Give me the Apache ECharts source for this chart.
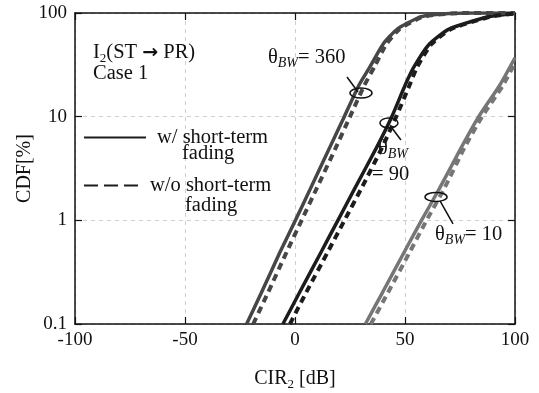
<!DOCTYPE html>
<html>
<head>
<meta charset="utf-8">
<script src="https://cdn.jsdelivr.net/npm/echarts@6/dist/echarts.min.js"></script>
<style>html,body{margin:0;padding:0;background:#fff}#c{width:539px;height:393px}</style>
</head>
<body>
<div id="c"></div>
<script>
// CDF levels [%]
const cdfLevels = [0.1, 0.2, 0.5, 1, 2, 5, 10, 20, 30, 50, 70, 90, 95, 99, 100, 100];
const cir360Solid  = [-22, -15.3, -6.7, 0.2, 6.9, 15.7, 22.4, 29, 34, 40, 46.5, 56, 61, 70, 78, 100];
const cir360Dashed = [-19, -12.3, -3.7, 3, 9.7, 18.5, 25, 31.5, 36, 41.5, 47.5, 57, 62, 71, 79, 100];
const cir90Solid   = [-5.5, 2, 12, 19.5, 27, 37, 44, 50, 54, 61, 70, 86, 92, 99, 100, 100];
const cir90Dashed  = [-2.3, 5, 15, 22.5, 30, 39.5, 46, 52, 55.5, 62, 71, 87, 93, 100, 100, 100];
const cdfLevels10Solid  = [0.1, 0.2, 0.5, 1, 2, 5, 10, 20, 37];
const cir10Solid        = [32, 39.7, 49.8, 57.5, 65.5, 75.5, 83.5, 93, 100];
const cdfLevels10Dashed = [0.1, 0.2, 0.5, 1, 2, 5, 10, 20, 33];
const cir10Dashed       = [34.5, 42.2, 52.3, 59.8, 67.7, 77, 85, 94.5, 100];
const xTicks = [-100, -50, 0, 50, 100];
const yTicks = [0.1, 1, 10, 100];

const FONT = 'Liberation Serif';
const pair = (xs, ys) => xs.map((x, i) => [x, ys[i]]);

const C360 = '#464646', C90 = '#1c1c1c', C10 = '#767676';
function mk(name, xs, ys, color, dashed) {
  return {
    name, type: 'line', data: pair(xs, ys), symbol: 'none', smooth: 0.2,
    xAxisIndex: 0, yAxisIndex: 0, silent: true,
    lineStyle: { color, width: dashed ? 4 : 3.5, type: dashed ? [7, 5] : 'solid' },
    z: dashed ? 3 : 2
  };
}

const chart = echarts.init(document.getElementById('c'));
const axisCommon = () => ({
  axisLine: { show: true, onZero: false, lineStyle: { color: '#111', width: 1.5 } },
  axisTick: { show: true, inside: true, length: 7, lineStyle: { color: '#111', width: 1.2 } },
});
const option = {
  animation: false,
  backgroundColor: '#fff',
  grid: { left: 75, right: 24, top: 13, bottom: 69, containLabel: false, outerBoundsMode: 'none' },
  xAxis: [
    Object.assign({
      type: 'value', min: -100, max: 100, interval: 50,
      name: 'CIR{s|2} [dB]', nameLocation: 'middle', nameGap: 42,
      nameTextStyle: { fontFamily: FONT, fontSize: 20, color: '#111',
        rich: { s: { fontFamily: FONT, fontSize: 13, color: '#111', padding: [12, 0, 0, 0] } } },
      axisLabel: { fontFamily: FONT, fontSize: 19, color: '#111', margin: 7,
        formatter: v => xTicks.includes(v) ? String(v) : '' },
      splitLine: { show: true, lineStyle: { color: '#cfcfcf', type: [4, 4], width: 1 } }
    }, axisCommon()),
    Object.assign({
      type: 'value', min: -100, max: 100, interval: 50, position: 'top',
      axisLabel: { show: false }, splitLine: { show: false }
    }, axisCommon())
  ],
  yAxis: [
    Object.assign({
      type: 'log', logBase: 10, min: 0.1, max: 100,
      name: 'CDF[%]', nameLocation: 'middle', nameGap: 40, nameRotate: 90, nameMoveOverlap: false,
      nameTextStyle: { fontFamily: FONT, fontSize: 20, color: '#111' },
      axisLabel: { fontFamily: FONT, fontSize: 19, color: '#111', margin: 8,
        formatter: v => { const m = yTicks.find(t => Math.abs(t - v) < 1e-9); return m !== undefined ? String(m) : ''; } },
      minorTick: { show: false },
      splitLine: { show: true, lineStyle: { color: '#cfcfcf', type: [4, 4], width: 1 } }
    }, axisCommon()),
    Object.assign({
      type: 'log', logBase: 10, min: 0.1, max: 100, position: 'right',
      axisLabel: { show: false }, splitLine: { show: false }
    }, axisCommon())
  ],
  legend: [
    { data: ['w/ short-term'], left: 78, top: 122, itemWidth: 62, itemHeight: 20, orient: 'vertical',
      textStyle: { fontFamily: FONT, fontSize: 20.5, color: '#111', padding: [0, 0, 0, 6] },
      itemStyle: { opacity: 0 }, selectedMode: false },
    { data: ['w/o short-term'], left: 78, top: 170, itemWidth: 59, itemHeight: 20, orient: 'vertical',
      textStyle: { fontFamily: FONT, fontSize: 20.5, color: '#111', padding: [0, 0, 0, 2] },
      itemStyle: { opacity: 0 }, selectedMode: false }
  ],
  series: [
    { name: 'w/ short-term', type: 'line', data: [], symbol: 'none', lineStyle: { color: '#1c1c1c', width: 3.5 } },
    { name: 'w/o short-term', type: 'line', data: [], symbol: 'none', lineStyle: { color: '#1c1c1c', width: 5, type: [14, 6] } },
    mk('θ360 solid', cir360Solid, cdfLevels, C360, false),
    mk('θ360 dashed', cir360Dashed, cdfLevels, C360, true),
    mk('θ90 solid', cir90Solid, cdfLevels, C90, false),
    mk('θ90 dashed', cir90Dashed, cdfLevels, C90, true),
    mk('θ10 solid', cir10Solid, cdfLevels10Solid, C10, false),
    mk('θ10 dashed', cir10Dashed, cdfLevels10Dashed, C10, true)
  ]
};
chart.setOption(option);

// annotations anchored to data coordinates
const tStyle = (text, x, y, align) => ({
  type: 'text', x, y, silent: true,
  style: { text, fontFamily: FONT, fontSize: 20.5, fill: '#111', align: align || 'left', verticalAlign: 'middle',
    rich: {
      n: { fontFamily: FONT, fontSize: 20.5, fill: '#111' },
      a: { fontFamily: 'DejaVu Sans', fontSize: 19, fontWeight: 'bold', fill: '#111' },
      s: { fontFamily: FONT, fontSize: 14, fontStyle: 'italic', fill: '#111', padding: [11, 0, 0, 0] },
      d: { fontFamily: FONT, fontSize: 13, fill: '#111', padding: [12, 0, 0, 0] }
    } }
});
const px = (x, y) => chart.convertToPixel({ xAxisIndex: 0, yAxisIndex: 0 }, [x, y]);
const e360 = px(30, 16.9), e90 = px(42.7, 8.7), e10 = px(64.1, 1.68);
const ell = (p, rx, ry) => ({ type: 'ellipse', silent: true, shape: { cx: p[0], cy: p[1], rx, ry },
  style: { fill: 'none', stroke: '#111', lineWidth: 1.5 }, z: 10 });
const seg = (x1, y1, x2, y2) => ({ type: 'line', silent: true, shape: { x1, y1, x2, y2 },
  style: { stroke: '#111', lineWidth: 1.5 }, z: 10 });
const pLeft = px(-100, 100);
chart.setOption({
  graphic: [
    ell(e360, 11, 5), ell(e90, 9, 5), ell(e10, 11, 4.5),
    seg(e360[0] - 14, e360[1] - 16, e360[0] - 3, e360[1] - 1),
    seg(e90[0] + 3, e90[1] + 5, e90[0] + 12, e90[1] + 17),
    seg(e10[0] + 4, e10[1] + 4, e10[0] + 17, e10[1] + 27),
    tStyle('{n|I}{d|2}{n|(ST }{a|→}{n| PR)}', pLeft[0] + 18, pLeft[1] + 40),
    tStyle('Case 1', pLeft[0] + 18, pLeft[1] + 61),
    tStyle('fading', 182, 154),
    tStyle('fading', 185, 206),
    tStyle('{n|θ}{s|BW}{n|= 360}', e360[0] - 93, e360[1] - 35),
    tStyle('{n|θ}{s|BW}', e90[0] - 11, e90[1] + 26),
    tStyle('{n|= 90}', e90[0] - 17, e90[1] + 52),
    tStyle('{n|θ}{s|BW}{n|= 10}', e10[0] - 1, e10[1] + 38)
  ]
});
</script>
</body>
</html>
